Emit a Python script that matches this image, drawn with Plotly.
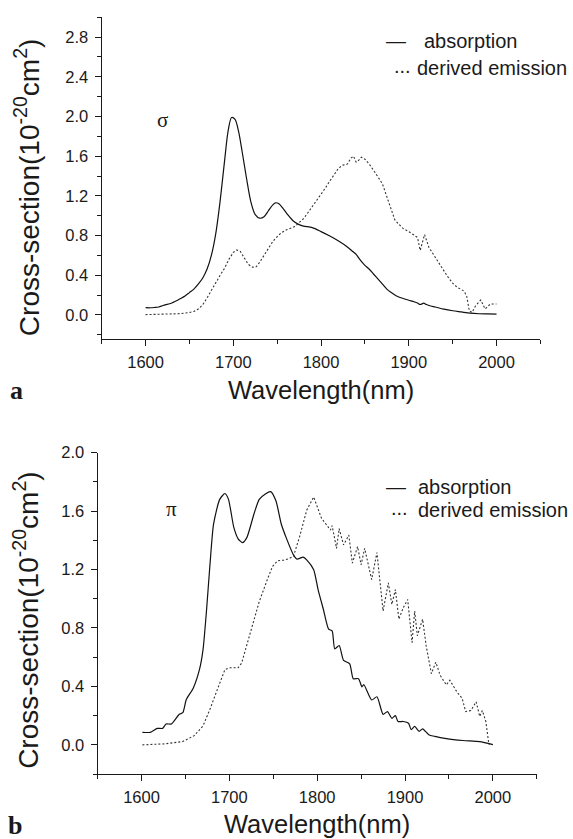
import plotly.graph_objects as go

W, H = 573, 839

# ---------------- data (panel a: sigma) ----------------
wl_abs_a = [1600, 1605, 1610, 1615, 1620, 1630, 1640, 1645, 1650, 1655, 1660, 1665, 1670, 1675,
            1680, 1685, 1690, 1694, 1698, 1702, 1706, 1710, 1715, 1720, 1725, 1730, 1735, 1740,
            1745, 1748, 1752, 1757, 1762, 1768, 1775, 1780, 1790, 1800, 1810, 1820, 1830, 1836,
            1840, 1845, 1850, 1855, 1860, 1865, 1870, 1875, 1880, 1885, 1890, 1900, 1906, 1910,
            1913, 1917, 1920, 1925, 1930, 1940, 1950, 1960, 1970, 1980, 1990, 2000]
abs_a = [0.073, 0.072, 0.075, 0.080, 0.095, 0.120, 0.165, 0.190, 0.225, 0.260, 0.310, 0.370, 0.460, 0.600,
         0.820, 1.150, 1.550, 1.850, 1.990, 1.970, 1.850, 1.650, 1.380, 1.140, 1.010, 0.975, 0.990, 1.050,
         1.110, 1.130, 1.120, 1.070, 1.010, 0.950, 0.910, 0.895, 0.880, 0.840, 0.795, 0.745, 0.685, 0.640,
         0.610, 0.550, 0.500, 0.460, 0.410, 0.360, 0.310, 0.260, 0.225, 0.195, 0.175, 0.148, 0.133, 0.120,
         0.105, 0.118, 0.105, 0.090, 0.080, 0.058, 0.042, 0.030, 0.018, 0.012, 0.010, 0.008]

wl_em_a = [1600, 1610, 1620, 1630, 1640, 1650, 1655, 1660, 1665, 1670, 1675, 1680, 1685, 1690, 1695,
           1700, 1704, 1708, 1712, 1717, 1722, 1726, 1730, 1735, 1740, 1745, 1750, 1755, 1760, 1765,
           1770, 1775, 1780, 1785, 1790, 1795, 1800, 1805, 1810, 1815, 1820, 1825, 1830, 1834, 1837,
           1840, 1843, 1846, 1850, 1855, 1860, 1865, 1870, 1875, 1880, 1884, 1888, 1893, 1900, 1906,
           1910, 1913, 1918, 1923, 1928, 1933, 1938, 1944, 1950, 1955, 1963, 1966, 1969, 1972, 1976,
           1982, 1987, 1993, 2000]
em_a = [0.003, 0.004, 0.005, 0.008, 0.013, 0.025, 0.035, 0.060, 0.100, 0.170, 0.250, 0.330, 0.400, 0.470, 0.560,
        0.630, 0.655, 0.640, 0.580, 0.510, 0.480, 0.485, 0.530, 0.600, 0.670, 0.740, 0.790, 0.830, 0.855, 0.870,
        0.890, 0.930, 0.970, 1.030, 1.090, 1.150, 1.220, 1.280, 1.350, 1.420, 1.480, 1.510, 1.520, 1.580, 1.600,
        1.540, 1.560, 1.590, 1.570, 1.520, 1.460, 1.390, 1.320, 1.190, 1.050, 0.960, 0.920, 0.875, 0.840, 0.800,
        0.780, 0.650, 0.810, 0.680, 0.610, 0.540, 0.470, 0.390, 0.320, 0.280, 0.240, 0.190, 0.040, 0.025, 0.090,
        0.150, 0.060, 0.110, 0.110]

# ---------------- data (panel b: pi) ----------------
wl_abs_b = [1601, 1610, 1618, 1624, 1628, 1634, 1643, 1647, 1651, 1659, 1666, 1670, 1674, 1678, 1682, 1689,
            1695, 1699, 1705, 1710, 1715, 1720, 1728, 1734, 1741, 1747, 1753, 1759, 1765, 1773, 1777, 1784,
            1788, 1796, 1801, 1807, 1813, 1817, 1820, 1825, 1830, 1837, 1841, 1847, 1851, 1853, 1862, 1868,
            1875, 1880, 1885, 1889, 1892, 1898, 1904, 1907, 1911, 1916, 1920, 1927, 1934, 1947, 1966, 1985, 2000]
abs_b = [0.086, 0.086, 0.113, 0.113, 0.143, 0.143, 0.210, 0.220, 0.310, 0.390, 0.516, 0.650, 0.920, 1.240, 1.510, 1.680,
         1.720, 1.680, 1.490, 1.410, 1.384, 1.420, 1.580, 1.680, 1.717, 1.733, 1.670, 1.513, 1.413, 1.300, 1.271, 1.285,
         1.266, 1.199, 1.063, 0.928, 0.792, 0.780, 0.657, 0.680, 0.578, 0.555, 0.453, 0.453, 0.397, 0.413, 0.307, 0.329,
         0.209, 0.228, 0.182, 0.200, 0.160, 0.160, 0.148, 0.104, 0.126, 0.092, 0.110, 0.070, 0.058, 0.043, 0.030, 0.022, 0.002]

wl_em_b = [1601, 1626, 1647, 1660, 1670, 1678, 1687, 1695, 1701, 1710, 1714, 1720, 1726, 1734, 1743, 1749,
           1755, 1762, 1768, 1773, 1780, 1788, 1796, 1805, 1811, 1815, 1817, 1822, 1825, 1830, 1836, 1840,
           1846, 1850, 1854, 1862, 1868, 1875, 1881, 1885, 1889, 1893, 1898, 1903, 1908, 1911, 1914, 1920,
           1924, 1927, 1930, 1935, 1940, 1947, 1951, 1959, 1965, 1969, 1975, 1981, 1985, 1988, 1992, 1995, 1996]
em_b = [0.000, 0.007, 0.023, 0.063, 0.130, 0.245, 0.390, 0.516, 0.528, 0.528, 0.560, 0.686, 0.810, 0.980, 1.128, 1.220,
        1.260, 1.264, 1.275, 1.290, 1.425, 1.605, 1.696, 1.549, 1.503, 1.470, 1.500, 1.345, 1.480, 1.368, 1.436, 1.244,
        1.357, 1.232, 1.345, 1.131, 1.316, 0.916, 1.108, 0.961, 1.063, 0.860, 0.939, 0.995, 0.700, 0.916, 0.747, 0.860,
        0.680, 0.589, 0.487, 0.566, 0.476, 0.410, 0.442, 0.363, 0.318, 0.228, 0.235, 0.295, 0.194, 0.235, 0.160, 0.024, 0.000]

x_ticks = [1600, 1700, 1800, 1900, 2000]
y_ticks_a = [0.0, 0.4, 0.8, 1.2, 1.6, 2.0, 2.4, 2.8]
y_ticks_b = [0.0, 0.4, 0.8, 1.2, 1.6, 2.0]

FONT = "Liberation Sans, Arial, sans-serif"
SERIF = "Liberation Serif, Times New Roman, serif"
INK = "#1a1a1a"

solid = dict(color="#111111", width=1.2)
dotted = dict(color="#333333", width=1.1, dash="2px,2px")

fig = go.Figure()
fig.add_trace(go.Scatter(x=wl_abs_a, y=abs_a, mode="lines", line=dict(solid, shape="spline", smoothing=0.8),
                         xaxis="x", yaxis="y", name="absorption"))
fig.add_trace(go.Scatter(x=wl_em_a, y=em_a, mode="lines", line=dotted, xaxis="x", yaxis="y",
                         name="derived emission"))
fig.add_trace(go.Scatter(x=wl_abs_b, y=abs_b, mode="lines", line=dict(solid, shape="spline", smoothing=0.6),
                         xaxis="x2", yaxis="y2", name="absorption"))
fig.add_trace(go.Scatter(x=wl_em_b, y=em_b, mode="lines", line=dotted, xaxis="x2", yaxis="y2",
                         name="derived emission"))

def px(x):
    return x / W

def py(y):
    return 1 - y / H

axis_common = dict(showline=True, linecolor=INK, linewidth=1.2, showgrid=False, zeroline=False,
                   ticks="outside", ticklen=6, tickwidth=1.2, tickcolor=INK,
                   tickfont=dict(family=FONT, size=16.5, color=INK))

xa = dict(axis_common, range=[1550, 2050], tickvals=x_ticks, ticklabelstandoff=2,
          minor=dict(ticks="outside", ticklen=4, tickwidth=1.2, tickcolor=INK, dtick=50, tick0=1550, showgrid=False))
ya_minor = dict(ticks="outside", ticklen=4, tickwidth=1.2, tickcolor=INK, dtick=0.2, tick0=0, showgrid=False)
fig.update_layout(
    xaxis=dict(xa, domain=[px(101.7), px(540.4)], anchor="y"),
    yaxis=dict(axis_common, domain=[py(333.3), py(8.4)], anchor="x", range=[-0.24, 3.0],
               tickvals=y_ticks_a, ticktext=[f"{v:.1f}" for v in y_ticks_a], ticklabelstandoff=3,
               minor=ya_minor),
    xaxis2=dict(xa, domain=[px(97.6), px(536.8)], anchor="y2"),
    yaxis2=dict(axis_common, domain=[py(773.4), py(448.4)], anchor="x2", range=[-0.2, 2.0],
                tickvals=y_ticks_b, ticktext=[f"{v:.1f}" for v in y_ticks_b], ticklabelstandoff=3,
                minor=ya_minor),
)

ann = []
def text(t, x, y, size, family=FONT, xanchor="center", angle=0, bold=False):
    ann.append(dict(text=(f"<b>{t}</b>" if bold else t), x=px(x), y=py(y), xref="paper", yref="paper",
                    xanchor=xanchor, yanchor="middle", showarrow=False, textangle=angle,
                    font=dict(family=family, size=size, color=INK)))

ytitle = "Cross-section(10<sup>-20</sup>cm<sup>2</sup>)"
# panel a
text(ytitle, 26.5, 180.6, 28, angle=-90)
text("Wavelength(nm)", 321, 385, 25.5)
text("a", 16, 386, 26, family=SERIF, bold=True)
text("σ", 162.5, 112, 21, family=SERIF)
text("—", 384.3, 32.7, 20, xanchor="left")
text("absorption", 421.7, 32.7, 20, xanchor="left")
text("...", 391.7, 58, 20, xanchor="left")
text("derived emission", 568.5, 60, 20, xanchor="right")
# panel b
text(ytitle, 26.5, 618, 28, angle=-90)
text("Wavelength(nm)", 317, 824, 25.5)
text("b", 15, 825, 26, family=SERIF, bold=True)
text("π", 171, 505, 21, family=SERIF)
text("—", 384.0, 483, 20, xanchor="left")
text("absorption", 415.7, 483, 20, xanchor="left")
text("...", 389.4, 504.5, 20, xanchor="left")
text("derived emission", 570, 506.3, 20, xanchor="right")

fig.update_layout(width=W, height=H, margin=dict(l=0, r=0, t=0, b=0), showlegend=False,
                  paper_bgcolor="white", plot_bgcolor="white", annotations=ann)

# remove the default page margin so the 573x839 figure fills the window exactly
fig.write_html("out.html", config={"displayModeBar": False},
               post_script="document.body.style.margin='0';document.body.style.padding='0';"
                           "document.documentElement.style.overflow='hidden';")
